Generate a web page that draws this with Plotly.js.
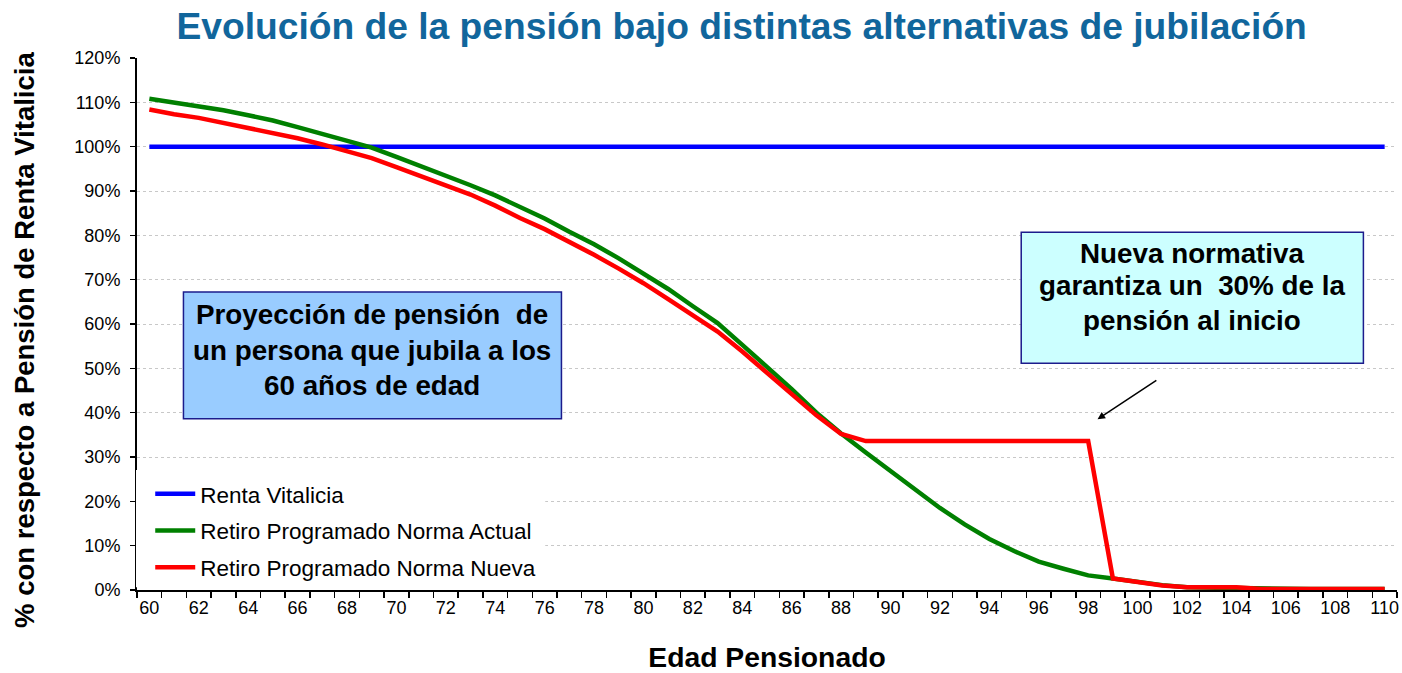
<!DOCTYPE html>
<html>
<head>
<meta charset="utf-8">
<script src="https://cdn.plot.ly/plotly-3.0.1.min.js"></script>
<style>html,body{margin:0;padding:0;background:#fff;}#chart{width:1402px;height:673px;}</style>
</head>
<body>
<div id="chart"></div>
<script>
// Edad del pensionado (años)
const edades = [60,61,62,63,64,65,66,67,68,69,70,71,72,73,74,75,76,77,78,79,80,81,82,83,84,85,86,87,88,89,90,91,92,93,94,95,96,97,98,99,100,101,102,103,104,105,106,107,108,109,110];

// % con respecto a pensión de renta vitalicia
const rentaVitalicia = [100,100,100,100,100,100,100,100,100,100,100,100,100,100,100,100,100,100,100,100,100,100,100,100,100,100,100,100,100,100,100,100,100,100,100,100,100,100,100,100,100,100,100,100,100,100,100,100,100,100,100];

const normaActual = [110.8,110.0,109.2,108.2,107.1,105.9,104.4,102.9,101.4,99.8,97.7,95.6,93.5,91.3,89.0,86.5,83.8,80.8,78.0,74.8,71.4,67.9,64.0,60.2,55.3,50.4,45.3,40.0,35.3,31.0,26.8,22.5,18.5,14.8,11.5,8.8,6.4,4.8,3.3,2.6,1.8,1.1,0.6,0.5,0.4,0.2,0.2,0.2,0.2,0.2,0.2];

const normaNueva = [108.4,107.3,106.5,105.4,104.3,103.1,101.9,100.5,99.0,97.4,95.4,93.3,91.2,89.2,86.7,83.9,81.4,78.6,75.6,72.5,69.2,65.6,61.9,58.3,53.8,49.1,44.3,39.4,35.2,33.6,33.6,33.6,33.6,33.6,33.6,33.6,33.6,33.6,33.6,2.6,1.8,1.0,0.6,0.6,0.6,0.2,0.2,0.2,0.2,0.2,0.2];

const nombres = ["Renta Vitalicia","Retiro Programado Norma Actual","Retiro Programado Norma Nueva"];
const etiquetasX = ["60","62","64","66","68","70","72","74","76","78","80","82","84","86","88","90","92","94","96","98","100","102","104","106","108","110"];
const valoresX = [60,62,64,66,68,70,72,74,76,78,80,82,84,86,88,90,92,94,96,98,100,102,104,106,108,110];

const textoTitulo = "Evolución de la pensión bajo distintas alternativas de jubilación";
const textoEjeY = "% con respecto a Pensión de Renta Vitalicia";
const textoEjeX = "Edad Pensionado";
const caja1 = ["Proyección de pensión&nbsp; de","un persona que jubila a los","60 años de edad"];
const caja2 = ["Nueva normativa","garantiza un&nbsp; 30% de la","pensión al inicio"];

const FONT = "Liberation Sans, Arial, Helvetica, sans-serif";

const traces = [
  {x: edades, y: rentaVitalicia, name: nombres[0], mode: "lines", line: {color: "#0000FF", width: 4.5}, legendgroup: "a"},
  {x: edades, y: normaActual, name: nombres[1], mode: "lines", line: {color: "#008000", width: 4.5}, legendgroup: "b"},
  {x: edades, y: normaNueva, name: nombres[2], mode: "lines", line: {color: "#FF0000", width: 4.5}, legendgroup: "c"}
];

const annotations = [];
const c1y = [62.2, 54.0, 46.1];
caja1.forEach((t, i) => annotations.push({x: 69.03, y: c1y[i], xref: "x", yref: "y", text: "<b>" + t + "</b>", showarrow: false, xanchor: "center", yanchor: "middle", font: {family: FONT, size: 27.8, color: "#000"}}));
const c2y = [75.8, 68.7, 60.8];
caja2.forEach((t, i) => annotations.push({x: 102.21, y: c2y[i], xref: "x", yref: "y", text: "<b>" + t + "</b>", showarrow: false, xanchor: "center", yanchor: "middle", font: {family: FONT, size: 27.8, color: "#000"}}));
annotations.push({x: 98.38, y: 38.51, ax: 100.82, ay: 47.53, xref: "x", yref: "y", axref: "x", ayref: "y", text: "", showarrow: true, arrowhead: 2, arrowsize: 1, arrowwidth: 1.5, arrowcolor: "#000"});
// Título del eje Y
annotations.push({x: -0.0889, y: 0.47, xref: "paper", yref: "paper", text: "<b>" + textoEjeY + "</b>", textangle: -90, showarrow: false, xanchor: "center", yanchor: "middle", font: {family: FONT, size: 27.5, color: "#000"}});

const shapes = [
  {type: "rect", xref: "paper", yref: "paper", x0: -0.0008, x1: 0.324, y0: 0.005, y1: 0.2256, fillcolor: "#FFFFFF", line: {width: 0}, layer: "above"},
  {type: "rect", xref: "x", yref: "y", x0: 61.38, x1: 76.68, y0: 38.6, y1: 67.2, fillcolor: "#99CCFF", line: {color: "#1C1C8C", width: 1.5}, layer: "above"},
  {type: "rect", xref: "x", yref: "y", x0: 95.29, x1: 109.14, y0: 51.14, y1: 80.69, fillcolor: "#CCFFFF", line: {color: "#1C1C8C", width: 1.5}, layer: "above"}
];

const layout = {
  width: 1402, height: 673,
  margin: {l: 137, r: 5, t: 58, b: 83},
  paper_bgcolor: "#FFFFFF", plot_bgcolor: "#FFFFFF",
  font: {family: FONT, color: "#000"},
  title: {text: "<b>" + textoTitulo + "</b>", x: 0.529, xanchor: "center", xref: "container", y: 0.962, yref: "container", yanchor: "middle", font: {family: FONT, size: 37.2, color: "#11669C"}},
  xaxis: {
    range: [59.5, 110.5], tickvals: valoresX, ticktext: etiquetasX, ticks: "",
    showline: true, linecolor: "#000", linewidth: 2, showgrid: false, zeroline: false,
    tickfont: {family: FONT, size: 18, color: "#000"},
    minor: {tick0: 59.5, dtick: 1, ticks: "outside", ticklen: 6, tickcolor: "#000", tickwidth: 1.5, showgrid: false},
    title: {text: "<b>" + textoEjeX + "</b>", font: {family: FONT, size: 28.3, color: "#000"}, standoff: 33},
    automargin: false, fixedrange: true
  },
  yaxis: {
    range: [0, 120], dtick: 10, tick0: 0, ticksuffix: "%",
    ticks: "outside", ticklen: 5, tickwidth: 1.5, tickcolor: "#000",
    showline: true, linecolor: "#000", linewidth: 2, zeroline: false,
    showgrid: true, gridcolor: "#C8C8C8", gridwidth: 1, griddash: "dot",
    tickfont: {family: FONT, size: 18, color: "#000"}, ticklabelstandoff: 6,
    automargin: false, fixedrange: true
  },
  showlegend: true,
  legend: {x: 0.0105, xanchor: "left", y: 0.2205, yanchor: "top", bgcolor: "rgba(0,0,0,0)", borderwidth: 0,
    font: {family: FONT, size: 22.5, color: "#000"}, traceorder: "grouped", tracegroupgap: 4.5, itemwidth: 40},
  annotations: annotations,
  shapes: shapes
};

Plotly.newPlot("chart", traces, layout, {displayModeBar: false, staticPlot: true});
</script>
</body>
</html>
